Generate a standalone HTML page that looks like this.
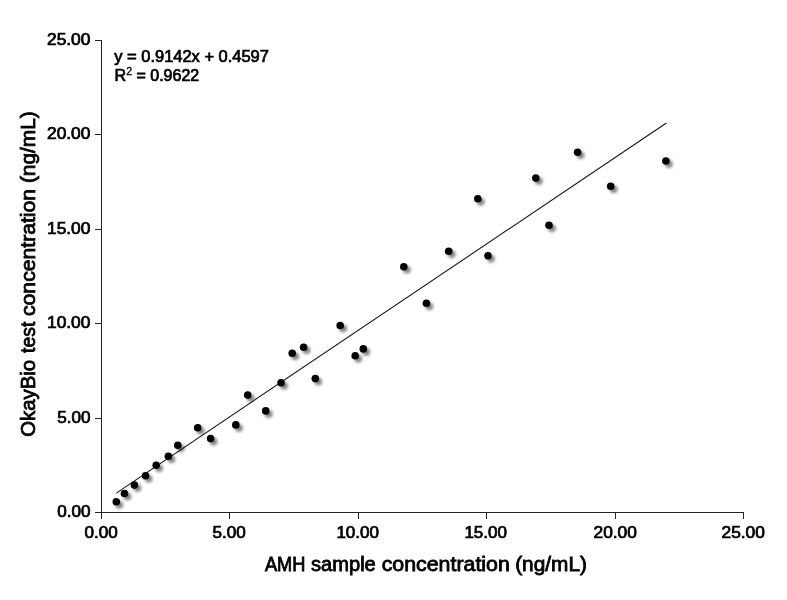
<!DOCTYPE html>
<html lang="en">
<head>
<meta charset="utf-8">
<title>AMH correlation</title>
<style>
html,body{margin:0;padding:0;background:#fff;}
body{width:787px;height:600px;overflow:hidden;}
svg{display:block;}
text{font-family:"Liberation Sans","DejaVu Sans",sans-serif;fill:#000;}
.tk{font-size:15.8px;stroke:#000;stroke-width:0.72px;}
.ti{font-size:19.6px;stroke:#000;stroke-width:0.8px;}
.ax{stroke:#222;stroke-width:1;shape-rendering:crispEdges;fill:none;}
</style>
</head>
<body>
<svg width="787" height="600" viewBox="0 0 787 600">
<defs>
<filter id="sh" x="-50%" y="-50%" width="250%" height="250%">
<feGaussianBlur in="SourceAlpha" stdDeviation="1.4" result="b"/>
<feOffset in="b" dx="2.7" dy="2.7" result="o"/>
<feComponentTransfer in="o" result="s"><feFuncA type="linear" slope="0.5"/></feComponentTransfer>
<feMerge><feMergeNode in="s"/><feMergeNode in="SourceGraphic"/></feMerge>
</filter>
</defs>
<rect width="787" height="600" fill="#fff"/>

<g class="ax">
<line x1="101.5" y1="40" x2="101.5" y2="519"/>
<line x1="95" y1="512.5" x2="744" y2="512.5"/>
<line x1="229.5" y1="512" x2="229.5" y2="519"/>
<line x1="358.5" y1="512" x2="358.5" y2="519"/>
<line x1="486.5" y1="512" x2="486.5" y2="519"/>
<line x1="615.5" y1="512" x2="615.5" y2="519"/>
<line x1="743.5" y1="512" x2="743.5" y2="519"/>
<line x1="95" y1="418.5" x2="102" y2="418.5"/>
<line x1="95" y1="323.5" x2="102" y2="323.5"/>
<line x1="95" y1="229.5" x2="102" y2="229.5"/>
<line x1="95" y1="134.5" x2="102" y2="134.5"/>
<line x1="95" y1="40.5" x2="102" y2="40.5"/>
</g>
<g class="tk" text-anchor="end">
<text x="90.4" y="516.8" textLength="33.2" lengthAdjust="spacingAndGlyphs">0.00</text>
<text x="90.4" y="422.8" textLength="33.2" lengthAdjust="spacingAndGlyphs">5.00</text>
<text x="90.4" y="327.8" textLength="43.4" lengthAdjust="spacingAndGlyphs">10.00</text>
<text x="90.4" y="233.8" textLength="43.4" lengthAdjust="spacingAndGlyphs">15.00</text>
<text x="90.4" y="138.8" textLength="43.4" lengthAdjust="spacingAndGlyphs">20.00</text>
<text x="90.4" y="44.8" textLength="43.4" lengthAdjust="spacingAndGlyphs">25.00</text>
</g>
<g class="tk" text-anchor="middle">
<text x="101.2" y="537.8" textLength="33.2" lengthAdjust="spacingAndGlyphs">0.00</text>
<text x="229.2" y="537.8" textLength="33.2" lengthAdjust="spacingAndGlyphs">5.00</text>
<text x="357.7" y="537.8" textLength="42.6" lengthAdjust="spacingAndGlyphs">10.00</text>
<text x="485.7" y="537.8" textLength="42.6" lengthAdjust="spacingAndGlyphs">15.00</text>
<text x="615.2" y="537.8" textLength="43.4" lengthAdjust="spacingAndGlyphs">20.00</text>
<text x="743.2" y="537.8" textLength="43.4" lengthAdjust="spacingAndGlyphs">25.00</text>
</g>
<line x1="116.3" y1="493.1" x2="666.4" y2="123.0" stroke="#111" stroke-width="1.05"/>
<g filter="url(#sh)" fill="#000">
<circle cx="116.3" cy="501.7" r="3.8"/>
<circle cx="124.5" cy="493.5" r="3.8"/>
<circle cx="134.4" cy="485.1" r="3.8"/>
<circle cx="145.6" cy="475.7" r="3.8"/>
<circle cx="156.2" cy="465.3" r="3.8"/>
<circle cx="168.4" cy="456.2" r="3.8"/>
<circle cx="177.8" cy="445.2" r="3.8"/>
<circle cx="197.7" cy="427.7" r="3.8"/>
<circle cx="210.6" cy="438.6" r="3.8"/>
<circle cx="235.8" cy="424.9" r="3.8"/>
<circle cx="247.7" cy="395.1" r="3.8"/>
<circle cx="265.7" cy="410.9" r="3.8"/>
<circle cx="281.0" cy="382.7" r="3.8"/>
<circle cx="292.2" cy="353.2" r="3.8"/>
<circle cx="303.6" cy="347.3" r="3.8"/>
<circle cx="315.3" cy="378.6" r="3.8"/>
<circle cx="340.2" cy="325.5" r="3.8"/>
<circle cx="355.2" cy="355.7" r="3.8"/>
<circle cx="363.3" cy="348.9" r="3.8"/>
<circle cx="403.8" cy="266.7" r="3.8"/>
<circle cx="426.4" cy="303.2" r="3.8"/>
<circle cx="448.7" cy="251.2" r="3.8"/>
<circle cx="477.8" cy="198.8" r="3.8"/>
<circle cx="488.0" cy="255.7" r="3.8"/>
<circle cx="535.8" cy="178.1" r="3.8"/>
<circle cx="549.0" cy="225.3" r="3.8"/>
<circle cx="577.6" cy="152.3" r="3.8"/>
<circle cx="610.7" cy="186.2" r="3.8"/>
<circle cx="665.9" cy="161.0" r="3.8"/>
</g>
<text class="tk" x="114.3" y="61.6" textLength="154.6" lengthAdjust="spacingAndGlyphs">y = 0.9142x + 0.4597</text>
<text class="tk" x="114.6" y="80.6" textLength="84.6" lengthAdjust="spacingAndGlyphs">R<tspan font-size="10.5" dy="-5.6" stroke-width="0.3">2</tspan><tspan dy="5.6"> = 0.9622</tspan></text>
<text class="ti" y="570.5"><tspan x="264.90" textLength="40.50" lengthAdjust="spacingAndGlyphs">AMH</tspan> <tspan x="311.00" textLength="64.80" lengthAdjust="spacingAndGlyphs">sample</tspan> <tspan x="381.70" textLength="128.10" lengthAdjust="spacingAndGlyphs">concentration</tspan> <tspan x="515.20" textLength="71.70" lengthAdjust="spacingAndGlyphs">(ng/mL)</tspan></text>
<text class="ti" transform="translate(35.4 0) rotate(-90)" y="0"><tspan x="-436.80" textLength="76.80" lengthAdjust="spacingAndGlyphs">OkayBio</tspan> <tspan x="-352.90" textLength="31.20" lengthAdjust="spacingAndGlyphs">test</tspan> <tspan x="-316.00" textLength="127.10" lengthAdjust="spacingAndGlyphs">concentration</tspan> <tspan x="-183.10" textLength="71.90" lengthAdjust="spacingAndGlyphs">(ng/mL)</tspan></text>
</svg>
</body>
</html>
